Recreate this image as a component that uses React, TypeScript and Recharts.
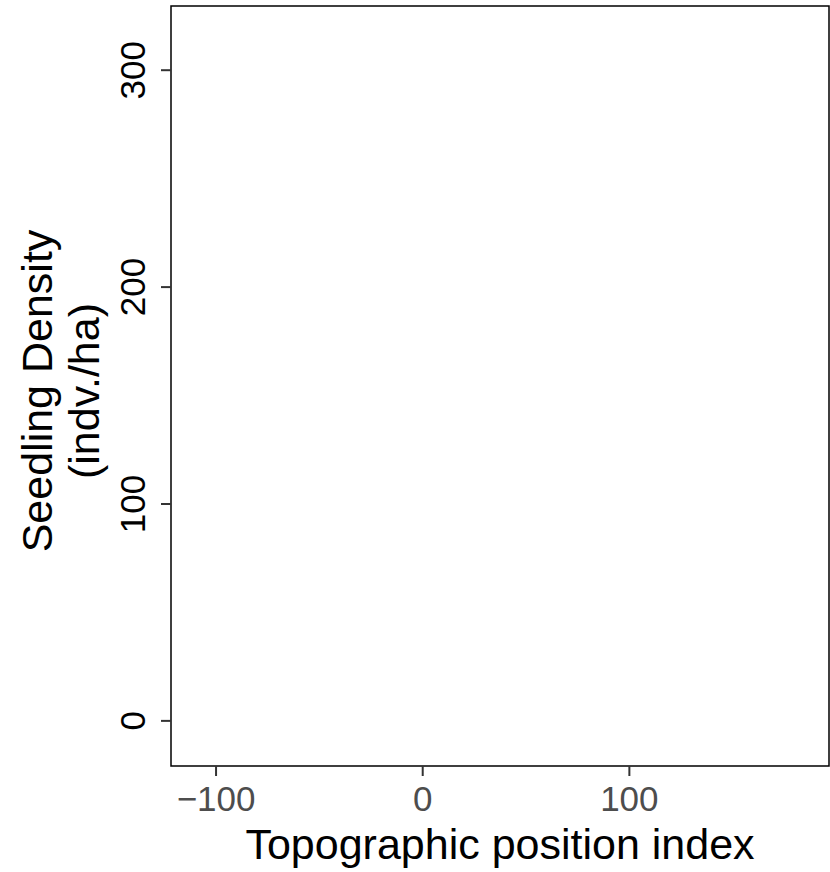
import { ScatterChart, Scatter, XAxis, YAxis, ReferenceArea } from 'recharts';

// nothing is plotted in the reference panel
const points: { tpi: number; density: number }[] = [];

const xTicks = [-100, 0, 100];
const yTicks = [0, 100, 200, 300];
const xDomain: [number, number] = [-121.8, 196.6];
const yDomain: [number, number] = [-20.8, 329.6];

const xTitle = 'Topographic position index';
const yTitle = ['Seedling Density', '(indv./ha)'];

const FONT = '"Liberation Sans", Arial, sans-serif';

const fmt = (v: number) => (v < 0 ? `\u2212${Math.abs(v)}` : `${v}`);

function XTick({ x, y, payload }: any) {
  return (
    <text x={x} y={y + 33} textAnchor="middle" fontSize={35} fill="#4d4d4d" fontFamily={FONT}>
      {fmt(payload.value)}
    </text>
  );
}

function YTick({ x, y, payload }: any) {
  const bx = x - 14;
  return (
    <text
      x={bx}
      y={y}
      transform={`rotate(-90 ${bx} ${y})`}
      textAnchor="middle"
      fontSize={35}
      fill="#000"
      fontFamily={FONT}
    >
      {fmt(payload.value)}
    </text>
  );
}

function XTitle({ viewBox }: any) {
  const { x, y, width } = viewBox;
  return (
    <text x={x + width / 2} y={y + 93} textAnchor="middle" fontSize={43} fill="#000" fontFamily={FONT}>
      {xTitle}
    </text>
  );
}

function YTitle({ viewBox }: any) {
  const { y, height } = viewBox;
  const cy = y + height / 2 + 5;
  return (
    <g>
      {yTitle.map((line, i) => {
        const bx = 52 + i * 47;
        return (
          <text
            key={line}
            x={bx}
            y={cy}
            transform={`rotate(-90 ${bx} ${cy})`}
            textAnchor="middle"
            fontSize={43}
            fill="#000"
            fontFamily={FONT}
          >
            {line}
          </text>
        );
      })}
    </g>
  );
}

export default function App() {
  return (
    <div style={{ position: 'fixed', left: 0, top: 0, width: 830, height: 872, background: '#fff', overflow: 'hidden' }}>
      <ScatterChart width={830} height={872} margin={{ top: 6, right: 1, bottom: 0, left: 0 }}>
        <XAxis
          type="number"
          dataKey="tpi"
          domain={xDomain}
          ticks={xTicks}
          allowDataOverflow
          height={106}
          axisLine={false}
          tickSize={10}
          tickLine={{ stroke: '#333', strokeWidth: 2 }}
          tick={<XTick />}
          label={<XTitle />}
        />
        <YAxis
          type="number"
          dataKey="density"
          domain={yDomain}
          ticks={yTicks}
          allowDataOverflow
          width={171}
          axisLine={false}
          tickSize={10}
          tickLine={{ stroke: '#333', strokeWidth: 2 }}
          tick={<YTick />}
          label={<YTitle />}
        />
        <ReferenceArea
          x1={xDomain[0]}
          x2={xDomain[1]}
          y1={yDomain[0]}
          y2={yDomain[1]}
          fill="none"
          stroke="#000"
          strokeWidth={1.5}
          ifOverflow="visible"
        />
        <Scatter data={points} fill="#000" isAnimationActive={false} />
      </ScatterChart>
    </div>
  );
}
